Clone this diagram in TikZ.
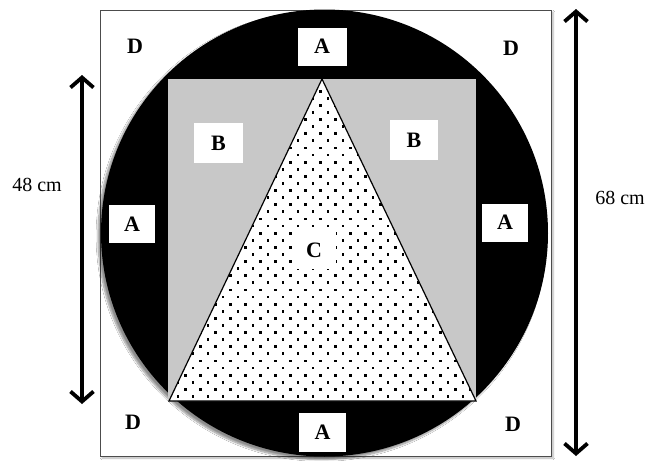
\documentclass[tikz,border=0pt]{standalone}
\usepackage{fontspec}
\setmainfont{Liberation Serif}
\usetikzlibrary{arrows.meta,shadows.blur}
\definecolor{sqgray}{RGB}{200,200,200}
\begin{document}
\begin{tikzpicture}[x=1pt,y=-1pt,
  lab/.style={fill=white,minimum width=46pt,minimum height=38pt,inner sep=0pt,
    font=\fontsize{22}{26}\selectfont\bfseries},
  plainlab/.style={inner sep=0pt,font=\fontsize{22}{26}\selectfont\bfseries},
  dimtip/.tip={Straight Barb[length=10pt,width=23pt,line width=3.8pt]},
  dim/.style={line width=3.8pt,dimtip-dimtip},
  dimlab/.style={inner sep=0pt,font=\fontsize{20}{24}\selectfont}]
\useasboundingbox (0,0) rectangle (649,461);
\fill[white] (0,0) rectangle (649,461);
% frame
\draw[black!70, line width=0.9pt, fill=white,
  blur shadow={shadow xshift=2pt,shadow yshift=-2pt,shadow blur steps=6,shadow opacity=30}]
  (100,10) rectangle (551,456);
% circle
\fill[black, blur shadow={shadow xshift=-3pt,shadow yshift=-3pt,shadow blur steps=8,shadow opacity=45}]
  (324.5,233) circle[radius=223.5pt];
% square
\fill[sqgray] (168,79) rectangle (476,401);
% triangle
\coordinate (T1) at (322,79);
\coordinate (T2) at (169,401);
\coordinate (T3) at (476,401);
\fill[white] (T1)--(T2)--(T3)--cycle;
\begin{scope}
  \clip (T1)--(T2)--(T3)--cycle;
  \foreach \j in {0,...,46}{
    \pgfmathsetmacro{\yy}{84+\j*7.1-1.4}
    \pgfmathsetmacro{\xo}{mod(\j,2)*7.5+163-1.4}
    \foreach \i in {0,...,22}{
      \pgfmathsetmacro{\xx}{\xo+\i*15}
      \fill (\xx,\yy) rectangle ++(2.8,2.8);
    }
  }
\end{scope}
\draw[line width=1.2pt, line join=miter] (T1)--(T2)--(T3)--cycle;
% labels
\node[lab, minimum width=49pt] (Atop) at (322,46.5) {A};
\node[lab] (Aleft) at (132,224) {A};
\node[lab] (Aright) at (505,222.5) {A};
\node[lab, minimum width=47pt,minimum height=39pt] (Abot) at (322.5,432.5) {A};
\node[lab, minimum width=49pt,minimum height=40pt] (Bl) at (218.5,143) {B};
\node[lab, minimum width=48pt,minimum height=40pt] (Br) at (414,140) {B};
\node[lab, minimum width=44pt,minimum height=38pt] (C) at (314,250) {C};
\node[plainlab] (Dtl) at (135,46.5) {D};
\node[plainlab] (Dtr) at (511,48) {D};
\node[plainlab] (Dbl) at (133,422) {D};
\node[plainlab] (Dbr) at (513,424) {D};
% dimensions
\coordinate (L1) at (82,75);
\coordinate (L2) at (82,404);
\draw[dim] (L1)--(L2);
\node[dimlab] (l48) at (37,185) {48 cm};
\coordinate (R1) at (576,9);
\coordinate (R2) at (576,456);
\draw[dim] (R1)--(R2);
\node[dimlab] (l68) at (620,198) {68 cm};
\end{tikzpicture}
\end{document}
